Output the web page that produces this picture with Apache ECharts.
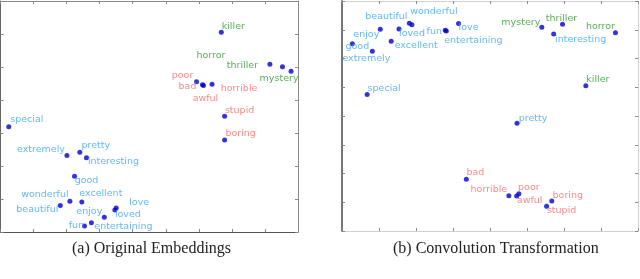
<!DOCTYPE html>
<html><head><meta charset="utf-8">
<script src="https://cdn.jsdelivr.net/npm/echarts@6/dist/echarts.min.js"></script>
<style>html,body{margin:0;padding:0;background:#fff}#c{width:640px;height:279px}</style>
</head><body><div id="c"></div>
<script>
// ---- data ----
const words = ['killer','horror','thriller','mystery','poor','bad','horrible','awful','stupid','boring',
  'special','extremely','pretty','interesting','good','wonderful','excellent','beautiful','love','loved',
  'enjoy','fun','entertaining'];
const groups = ['genre','genre','genre','genre','neg','neg','neg','neg','neg','neg',
  'pos','pos','pos','pos','pos','pos','pos','pos','pos','pos','pos','pos','pos'];
// (a) Original Embeddings
const origX = [6.68,8.15,8.53,8.79,5.93,6.11,6.40,6.14,6.78,6.78,
  0.25,2.01,2.40,2.60,2.24,2.10,2.46,1.81,3.50,3.46,3.14,2.54,2.75];
const origY = [6.05,5.08,5.01,4.87,4.55,4.46,4.48,4.44,3.51,2.79,
  3.19,2.32,2.42,2.25,1.69,0.93,0.91,0.80,0.73,0.67,0.45,0.18,0.28];
// (b) Convolution Transformation
const convX = [6.59,7.39,5.96,5.40,4.78,3.36,4.51,4.72,5.53,5.67,
  0.68,0.82,4.73,5.72,0.28,1.89,1.33,1.82,3.15,1.54,1.035,2.79,2.82];
const convY = [5.05,6.90,7.19,7.09,1.30,1.80,1.23,1.22,0.86,1.04,
  4.75,6.25,3.75,6.85,6.51,7.17,6.60,7.23,7.22,7.03,7.02,6.98,6.96];
const captions = ['(a) Original Embeddings', '(b) Convolution Transformation'];

// ---- styles ----
const groupColor = {pos:'#3aa6f2', neg:'#ff6a6a', genre:'#2c9a2c'};
const offA = {killer:[12,-6],horror:[-59,-9],thriller:[-40,-1],mystery:[-12,7],poor:[-14,-6],bad:[-15,2],
  horrible:[27,4],awful:[2,13],stupid:[15,-6],boring:[16,-6],special:[18,-7],extremely:[-26,-6],
  pretty:[16,-7],interesting:[27,4],good:[12,4],wonderful:[-25,-7],excellent:[19,-8],beautiful:[-23,4],
  love:[23,-5],loved:[13,5],enjoy:[-15,-6],fun:[-8,-1],entertaining:[32,4]};
const offB = {beautiful:[-23,-7],wonderful:[22,-13],enjoy:[-14,5],loved:[13,5],fun:[-11,1],
  entertaining:[27,10],love:[10,4],excellent:[25,4],good:[5,3],extremely:[-6,7],special:[17,-6],
  mystery:[-21,-5],thriller:[-1,-6],interesting:[27,5],horror:[-15,-6],killer:[12,-6],pretty:[16,-5],
  bad:[9,-7],horrible:[-20,-6],poor:[10,-6],awful:[13,5],boring:[16,-6],stupid:[15,4]};

function mk(xs, ys){
  return words.map((w,i)=>({value:[xs[i],ys[i]], name:w,
    label:{color:groupColor[groups[i]]}}));
}
function axes(gi, max, intv, pos, lineStyle){
  return {type:'value', gridIndex:gi, min:0, max:max, interval:intv, position:pos,
    axisLine:{show:true, onZero:false, lineStyle:lineStyle},
    axisTick:{show:true, inside:true, length:3, lineStyle:{color:'#888'}},
    axisLabel:{show:false}, splitLine:{show:false}};
}
const chart = echarts.init(document.getElementById('c'), null, {renderer:'canvas'});
const gA = '#8a8a8a', gB = '#d0d0d0';
function layoutFor(offs){
  return function(p){ const o = offs[words[p.dataIndex]]; return {dx:o[0], dy:o[1], hideOverlap:false}; };
}
chart.setOption({
  animation:false,
  grid:[{left:0.5,top:1,width:297.5,height:231},{left:342,top:1,width:296,height:230}],
  xAxis:[axes(0,9,1,'bottom',{color:'#555'}), axes(0,9,1,'top',{color:gA}),
         axes(1,8,1,'bottom',{color:gB}), axes(1,8,1,'top',{color:gB})],
  yAxis:[axes(0,7,1,'left',{color:'#666'}), axes(0,7,1,'right',{color:gA}),
         axes(1,8,1,'left',{color:'#777',width:2}), axes(1,8,1,'right',{color:gB})],
  series:[
    {type:'scatter', xAxisIndex:0, yAxisIndex:0, data:mk(origX,origY), labelLayout:layoutFor(offA)},
    {type:'scatter', xAxisIndex:2, yAxisIndex:2, data:mk(convX,convY), labelLayout:layoutFor(offB)}
  ].map(s=>Object.assign(s,{symbolSize:5, itemStyle:{color:'#0000d0'},
    label:{show:true, position:'inside', formatter:'{b}', fontFamily:'DejaVu Sans', fontSize:9.5}})),
  graphic:[
    {type:'text', left:150-78, top:241, style:{text:captions[0], font:'16px "Liberation Serif"', fill:'#222'}},
    {type:'text', left:490-97, top:241, style:{text:captions[1], font:'16px "Liberation Serif"', fill:'#222'}}
  ]
});
</script></body></html>
